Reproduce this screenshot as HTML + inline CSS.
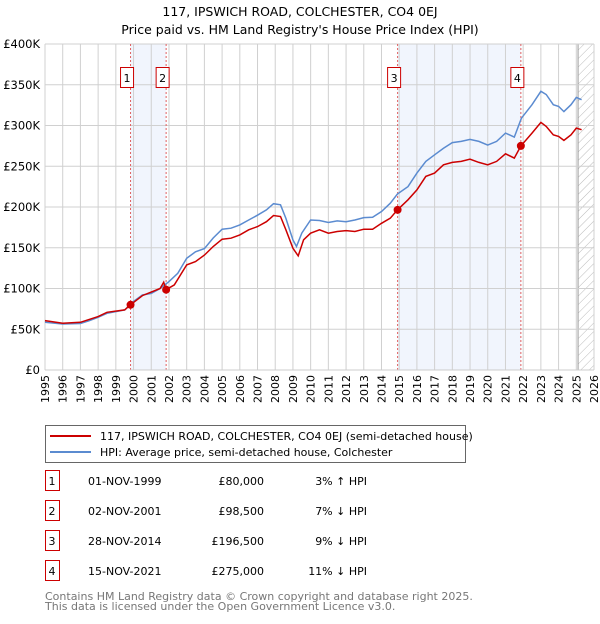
<!DOCTYPE html>
<html><head><meta charset="utf-8"><style>
body{margin:0;background:#fff;font-family:"DejaVu Sans","Liberation Sans",sans-serif;}
svg text{font-family:"DejaVu Sans","Liberation Sans",sans-serif;}
</style></head><body>
<svg id="c" width="600" height="620" xmlns="http://www.w3.org/2000/svg">
<defs><pattern id="hatch" width="6" height="6" patternUnits="userSpaceOnUse" patternTransform="rotate(45)"><line x1="0" y1="0" x2="0" y2="6" stroke="#bbb" stroke-width="1"/></pattern></defs>
<text x="300" y="16" text-anchor="middle" font-size="12.5">117, IPSWICH ROAD, COLCHESTER, CO4 0EJ</text>
<text x="300" y="34" text-anchor="middle" font-size="12.5">Price paid vs. HM Land Registry's House Price Index (HPI)</text>
<g id="plot"></g>
<g>
<rect x="45.5" y="425.5" width="420" height="37" fill="#fff" stroke="#666"/>
<line x1="50" y1="436" x2="91" y2="436" stroke="#cc0000" stroke-width="2"/>
<text x="100" y="440" font-size="11">117, IPSWICH ROAD, COLCHESTER, CO4 0EJ (semi-detached house)</text>
<line x1="50" y1="452" x2="91" y2="452" stroke="#5b8bd0" stroke-width="2"/>
<text x="100" y="456" font-size="11">HPI: Average price, semi-detached house, Colchester</text>
</g>
<g id="table" font-size="11"></g>
<text x="45" y="600" font-size="11" fill="#777">Contains HM Land Registry data © Crown copyright and database right 2025.</text>
<text x="45" y="610" font-size="11" fill="#777">This data is licensed under the Open Government Licence v3.0.</text>
</svg>
<script>
const yTicks=[0,50,100,150,200,250,300,350,400];
const yTickLabels=["£0","£50K","£100K","£150K","£200K","£250K","£300K","£350K","£400K"];
const years=[1995,1996,1997,1998,1999,2000,2001,2002,2003,2004,2005,2006,2007,2008,2009,2010,2011,2012,2013,2014,2015,2016,2017,2018,2019,2020,2021,2022,2023,2024,2025,2026];
const hpiT=[1995,1996,1997,1997.5,1998,1998.5,1999,1999.5,2000,2000.5,2001,2001.5,2002,2002.5,2003,2003.5,2004,2004.5,2005,2005.5,2006,2006.5,2007,2007.5,2007.9,2008.3,2008.6,2009,2009.2,2009.5,2010,2010.5,2011,2011.5,2012,2012.5,2013,2013.5,2014,2014.5,2014.9,2015.5,2016,2016.5,2017,2017.5,2018,2018.5,2019,2019.5,2020,2020.5,2021,2021.5,2021.9,2022.5,2023,2023.3,2023.7,2024,2024.3,2024.7,2025,2025.3];
const hpiV=[58.5,56.5,57,60.5,64.7,69.6,71.6,73.7,84,92,94,100,108.5,118.7,137,145,149,162,172.8,174,178,184,190,196.5,204,202.7,186,159.7,151.5,168,184,183.4,181,183,182,184,187,187.5,194.5,204.7,216,225,241.6,256,264,272,279,280.5,283,280.5,276,280.5,290.7,285.8,309,325.5,342,338,325.5,323.4,317,325.5,334.5,331.6];
const priceT=[1995,1996,1997,1998,1998.5,1999.5,1999.83,2000.5,2001.5,2001.7,2001.83,2002.3,2003,2003.5,2004,2004.5,2005,2005.5,2006,2006.5,2007,2007.5,2007.9,2008.3,2008.6,2009,2009.3,2009.6,2010,2010.5,2011,2011.5,2012,2012.5,2013,2013.5,2014,2014.5,2014.9,2015.5,2016,2016.5,2017,2017.5,2018,2018.5,2019,2019.5,2020,2020.5,2021,2021.5,2021.87,2022.5,2023,2023.3,2023.7,2024,2024.3,2024.7,2025,2025.3];
const priceV=[60.6,57.3,58.5,65.5,70.8,73.7,80,91.3,100,107.7,98.5,104.4,129,133,141,151.5,160.5,161.7,165.8,172,176,182,189.6,188.3,172,149.4,140,159.7,167.9,172,167.9,170,171,170,172.8,172.8,180,186.3,196.5,208.8,221,237.5,241.6,251.8,254.7,256,258.7,254.7,251.8,256,265.3,260,275,290.7,303.8,298.9,288.6,286.6,281.7,288.6,296.8,294.8];
const saleT=[1999.83,2001.84,2014.91,2021.87];
const saleV=[80,98.5,196.5,275];
const saleLabels=["1","2","3","4"];
const saleDates=["01-NOV-1999","02-NOV-2001","28-NOV-2014","15-NOV-2021"];
const salePrices=["£80,000","£98,500","£196,500","£275,000"];
const saleHpi=["3% ↑ HPI","7% ↓ HPI","9% ↓ HPI","11% ↓ HPI"];

const L=45,R=594,T=44,B=370;
const x=t=>L+(t-1995)/31*(R-L);
const y=v=>B-v/400*(B-T);
const NS="http://www.w3.org/2000/svg";
const plot=document.getElementById('plot');
function mk(tag,at,parent){const e=document.createElementNS(NS,tag);for(const k in at)e.setAttribute(k,at[k]);(parent||plot).appendChild(e);return e;}
for(const [a,b] of [[0,1],[2,3]]){
 const r=mk('rect',{x:x(saleT[a]),y:T,width:x(saleT[b])-x(saleT[a]),height:B-T,fill:'#eef3fd',opacity:0.8});
 
 
}
const h=mk('rect',{x:x(2025.1),y:T,width:R-x(2025.1),height:B-T,fill:'url(#hatch)'});


years.forEach((yr,i)=>{
 const gx=x(yr);
 const g=mk('line',{x1:gx,y1:T,x2:gx,y2:B,stroke:'#d0d0d0'});
 
 
 const t=mk('text',{x:0,y:0,'font-size':11,'text-anchor':'end',transform:`translate(${gx+4},${B+5}) rotate(-90)`});
 t.textContent=yr;
 
 
});
mk('line',{x1:x(2025.1),y1:T,x2:x(2025.1),y2:B,stroke:'#999'});
yTicks.forEach((v,i)=>{
 const gy=y(v);
 const g=mk('line',{x1:L,y1:gy,x2:R,y2:gy,stroke:'#d0d0d0'});
 
 
 const t=mk('text',{x:L-5,y:gy+4,'font-size':11.5,'text-anchor':'end'});
 t.textContent=yTickLabels[i];
 
 
});
saleT.forEach((t,i)=>{
 const l=mk('line',{x1:x(t),y1:T,x2:x(t),y2:B,stroke:'#e06060','stroke-dasharray':'2,2'});
 
 
 const bx=x(t)-10;
 const r=mk('rect',{x:bx,y:67.5,width:13,height:20,fill:'#fff',stroke:'#cc0000'});
 
 
 const tx=mk('text',{x:bx+6.5,y:82,'font-size':11,'text-anchor':'middle'});
 tx.textContent=saleLabels[i];
 
 
});
const pathOf=(ts,vs)=>ts.map((t,i)=>(i?'L':'M')+x(t).toFixed(1)+','+y(vs[i]).toFixed(1)).join('');
const hp=mk('path',{d:pathOf(hpiT,hpiV),fill:'none',stroke:'#5b8bd0','stroke-width':1.5});


const pp=mk('path',{d:pathOf(priceT,priceV),fill:'none',stroke:'#cc0000','stroke-width':1.5});


saleT.forEach((t,i)=>{
 const c=mk('circle',{cx:x(t),cy:y(saleV[i]),r:4,fill:'#cc0000'});
 
 
});
mk('line',{x1:L,y1:B,x2:R,y2:B,stroke:'#ccc'});
const tb=document.getElementById('table');
saleLabels.forEach((s,i)=>{
 const ry=483+i*30;
 const r=mk('rect',{x:45.5,y:ry-12.5,width:14,height:20,fill:'#fff',stroke:'#cc0000'},tb);
 
 
 const cells=[[52,s,'middle'],[88,saleDates[i],'start'],[264,salePrices[i],'end'],[367,saleHpi[i],'end']];
 cells.forEach(([cx,tx,an],j)=>{
  const e=mk('text',{x:cx,y:ry+2,'text-anchor':an},tb);
  e.textContent=tx;
  
  
 });
});
</script>
</body></html>
